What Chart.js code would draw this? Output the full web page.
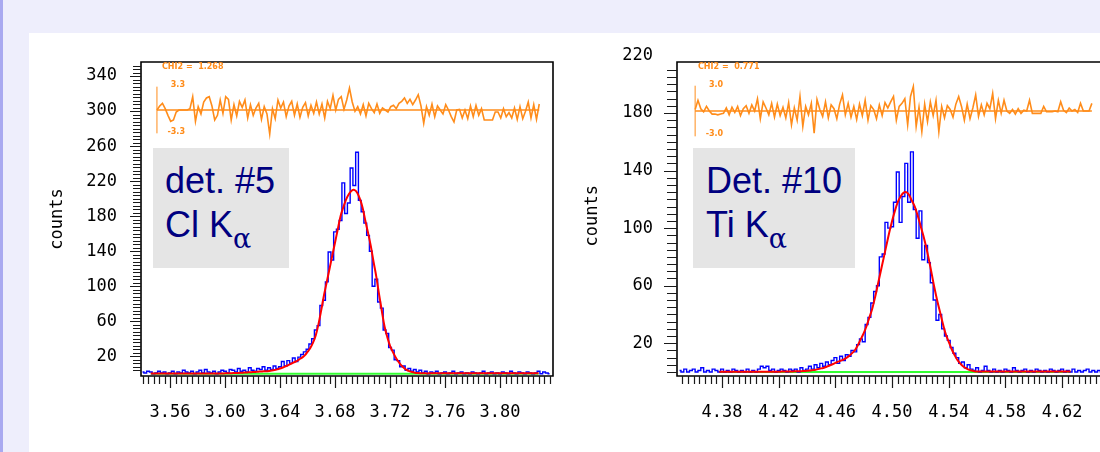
<!DOCTYPE html>
<html>
<head>
<meta charset="utf-8">
<script src="https://cdn.jsdelivr.net/npm/chart.js@4"></script>
<style>
  html, body { margin: 0; padding: 0; overflow: hidden; }
  body { width: 1100px; height: 452px; background: #eeeefc; position: relative; font-family: "Liberation Sans", Arial, sans-serif; }
  #edge { position: absolute; left: 0; top: 0; width: 3px; height: 452px; background: #a9a9f0; }
  #panel { position: absolute; left: 29px; top: 33px; width: 1100px; height: 430px; background: #fff; }
  canvas { position: absolute; top: 36px; }
  #c1 { left: 30px; }
  #c2 { left: 570px; }
  .tag { position: absolute; top: 148px; height: 120px; background: #e5e5e5; color: #000080; font-size: 36px; line-height: 44px; }
  .tag .txt { position: absolute; top: 11px; left: 12px; white-space: nowrap; }
  .tag sub { font-family: "DejaVu Serif", serif; font-size: 27px; vertical-align: -11px; line-height: 0; }
</style>
</head>
<body>
<div id="edge"></div>
<div id="panel"></div>
<canvas id="c1" width="540" height="416"></canvas>
<canvas id="c2" width="550" height="416"></canvas>
<div class="tag" style="left:153px;width:136px"><div class="txt">det. #5<br>Cl K<sub>α</sub></div></div>
<div class="tag" style="left:693px;width:162px"><div class="txt" style="left:13px">Det. #10<br>Ti K<sub>α</sub></div></div>
<script>
// bin width of the spectra (keV)
const BIN = 0.002;

/* ---------- det. #5, Cl K-alpha ---------- */
const clBinStart = 3.540;
const clCounts = [
  2, 1, 3, 2, 0, 1, 3, 1, 2, 0,
  1, 3, 0, 2, 1, 4, 2, 1, 3, 0,
  2, 4, 1, 5, 2, 1, 3, 0, 2, 4,
  3, 1, 5, 4, 2, 6, 3, 4, 2, 7,
  4, 3, 6, 5, 8, 4, 7, 5, 9, 6,
  8, 14, 9, 15, 12, 18, 14, 19, 22, 25,
  28, 34, 40, 50, 55, 78, 84, 105, 139, 130,
  162, 165, 175, 218, 183, 195, 235, 215, 253, 198,
  185, 172, 158, 140, 100, 108, 82, 75, 50, 46,
  30, 27, 16, 15, 8, 9, 4, 6, 3, 5,
  2, 4, 1, 3, 0, 2, 1, 3, 0, 1,
  2, 0, 1, 3, 0, 1, 2, 0, 1, 0,
  2, 1, 0, 1, 3, 0, 1, 2, 0, 1,
  0, 2, 1, 0, 3, 1, 0, 2, 1, 0,
  2, 1, 0, 1, 3, 0, 2, 1, 0
];
const clFitStart = 3.546;
const clFit = [
  0.3, 0.3, 0.3, 0.3, 0.3, 0.3, 0.3, 0.3, 0.3, 0.3,
  0.3, 0.3, 0.3, 0.3, 0.3, 0.3, 0.3, 0.3, 0.3, 0.3,
  0.3, 0.3, 0.3, 0.3, 0.3, 0.4, 0.4, 0.5, 0.6, 0.7,
  0.8, 0.9, 1.0, 1.2, 1.4, 1.6, 1.8, 2.0, 2.2, 2.4,
  2.6, 2.8, 3.0, 3.3, 3.7, 4.3, 5.1, 6.0, 7.2, 8.5,
  10, 11.5, 13, 14.5, 16.5, 18.5, 21, 25, 29.5, 35.5,
  44, 57, 73, 90, 105, 120, 135, 150, 165, 180,
  190, 199, 205, 209, 210, 207, 200, 190, 175, 161,
  146, 128, 111, 91, 72, 54, 42, 32, 25, 19,
  14, 10, 7, 4.5, 3, 2, 1.3, 0.9, 0.7, 0.6,
  0.5, 0.5, 0.5, 0.5, 0.5, 0.5, 0.5, 0.5, 0.5, 0.5,
  0.5, 0.5, 0.5, 0.5, 0.5, 0.5, 0.5, 0.5, 0.5, 0.5,
  0.5, 0.5, 0.5, 0.5, 0.5, 0.5, 0.5, 0.5, 0.5, 0.5,
  0.5, 0.5, 0.5, 0.5, 0.5, 0.5, 0.5, 0.5, 0.5, 0.5,
  0.5, 0.5
];
const clResStart = 3.5505;
const clResid = [
  0, 0.6, 1.0, 0.2, -0.8, -1.7, -1.5, -0.3, 0, 0,
  0, 0, 0.2, 2.0, -1.7, 0.5, -0.6, 1.2, 1.8, 2.0, 0.6, -1.5,
  -0.8, 1.5, -0.5, 2.0, 1.6, -1.5, 0.8, -0.9, 1.3, 0.4, 1.5, -1.2,
  0.8, -0.8, 0.3, 1.0, -1.4, 0.5, -0.6, -3.6, 0.2, -1.3, 1.5, 0.3,
  1.2, -1.0, 0.6, 1.3, -0.8, 0.9, -1.1, 0.4, 1.1, -0.9, 0.7, -0.5,
  1.2, -0.6, 0.9, -1.2, 1.3, 0.2, 2.2, 0.0, 1.6, 2.0, 0.1, 1.5,
  3.3, 1.2, -0.2, 0.5, -0.6, 0.8, -0.9, 1.0, 0.2, -0.4, 0.9, -0.5,
  0.3, 0.0, -0.3, 0.5, 0.7, 0.2, 1.0, 1.3, 1.8, 1.0, 1.6, 0.8,
  1.5, 2.3, 0.6, -2.0, 0.5, -0.8, 0.9, -1.0, 0.6, 0.0, -0.6, 0.8,
  0.0, -1.0, -1.8, 0.0, 0.1, -1.2, 0.0, -1.3, 0.6, -1.0, 0.7, -0.8,
  0.2, -1.5, -1.5, -1.5, -1.5, -0.3, -0.3, -1.2, 0.2, -1.0, -0.4, -1.2,
  0.3, -1.4, 0.5, -1.3, -0.2, 1.2, -1.2, 0.8, -1.4, 0.9
];
const clXLabels = [3.56, 3.60, 3.64, 3.68, 3.72, 3.76, 3.80];
const clYLabels = [20, 60, 100, 140, 180, 220, 260, 300, 340];

/* ---------- det. #10, Ti K-alpha ---------- */
const tiBinStart = 4.350;
const tiCounts = [
  1, 0, 2, 0, 1, 2, 0, 1, 3, 0,
  1, 0, 2, 1, 0, 2, 0, 1, 0, 2,
  1, 0, 1, 0, 2, 0, 1, 0, 2, 4,
  3, 4, 1, 2, 0, 1, 2, 1, 0, 2,
  1, 2, 0, 3, 1, 2, 4, 2, 5, 3,
  6, 4, 7, 5, 8, 10, 6, 11, 8, 12,
  11, 15, 14, 19, 23, 21, 33, 38, 48, 56,
  60, 80, 82, 104, 100, 101, 118, 139, 104, 122,
  145, 118, 153, 113, 93, 112, 78, 88, 76, 62,
  50, 36, 40, 30, 25, 22, 17, 13, 10, 6,
  7, 3, 5, 2, 1, 3, 0, 1, 4, 1,
  0, 2, 0, 1, 0, 2, 1, 0, 3, 1,
  0, 1, 2, 0, 1, 0, 2, 1, 0, 1,
  0, 2, 1, 0, 1, 2, 0, 1, 0, 2,
  0, 1, 0, 1, 2, 0, 1, 0, 1, 0,
  1
];
const tiFitStart = 4.378;
const tiFit = [
  0.2, 0.2, 0.2, 0.2, 0.2, 0.2, 0.2, 0.2, 0.2, 0.2,
  0.2, 0.2, 0.2, 0.2, 0.2, 0.2, 0.2, 0.2, 0.2, 0.2,
  0.2, 0.2, 0.3, 0.3, 0.3, 0.4, 0.4, 0.5, 0.5, 0.6,
  0.7, 0.8, 1.0, 1.3, 1.6, 2.0, 2.5, 3.0, 3.7, 4.5,
  5.4, 6.3, 7.2, 8.0, 8.8, 10, 11.5, 13.3, 15.5, 19,
  23, 27, 32, 38, 44, 52, 61, 70, 79, 88,
  97, 105, 112, 118, 122, 124.5, 125, 123, 119, 115,
  109, 102, 95, 87, 78, 68, 58, 49, 41, 33,
  26, 21, 16, 12, 8.5, 6, 4, 2.7, 1.7, 1.0,
  0.6, 0.4, 0.3, 0.3, 0.3, 0.3, 0.3, 0.3, 0.3, 0.3,
  0.3, 0.3, 0.3, 0.3, 0.3, 0.3, 0.3, 0.3, 0.3, 0.3,
  0.3, 0.3, 0.3, 0.3, 0.3, 0.3, 0.3, 0.3, 0.3, 0.3,
  0.3, 0.3, 0.3, 0.3, 0.3
];
const tiResStart = 4.361;
const tiResid = [
  0.2, 1.4, 0.3, -0.1, 0.6, 0.0, -0.4, -0.4, -0.5, -0.4,
  -0.3, 0.4, -0.5, 0.5, -0.2, 0.6, -0.6, 0.3, 0.7, -0.3, 0.8, 0.0,
  1.6, -1.0, 1.2, 0.4, -0.5, 1.0, -0.8, 0.9, -0.6, 0.5, -0.9, 1.1,
  -1.8, 0.4, -1.2, 1.9, -2.0, 0.6, -0.5, 1.0, -2.9, 1.5, 0.2, -0.7,
  1.2, -0.9, 0.8, 0.3, -1.0, 0.9, 2.1, -0.5, 1.0, -0.8, 0.6, -1.1,
  0.9, -0.6, 1.4, -1.2, 0.7, 0.2, -1.0, 0.8, -0.6, 1.1, 0.4, 1.2,
  1.9, -1.2, 0.6, 1.0, 1.6, -1.8, 1.9, 3.2, -2.0, 0.5, -2.7, 0.9,
  -1.4, 1.2, -0.6, 1.4, -2.7, 0.6, -0.9, 0.7, 0.2, -0.8, 0.9, 1.9,
  0.6, -1.2, 0.9, -1.0, 0.4, 2.1, -0.7, 0.8, -0.5, 1.0, 0.3, 2.3,
  -1.0, 1.4, -0.3, 1.4, 0.0, -0.3, 0.2, -0.4, 0.3, -0.3, 0.1, 0.0,
  1.4, -0.3, -0.3, -0.3, -0.3, 0.6, -0.1, -0.1, -0.1, 0.0, -0.1, 1.2,
  0.1, -0.2, 0.4, 0.0, 0.2, -0.2, 1.0, 0.0, 0.0, 0.0, 1.0
];
const tiXLabels = [4.38, 4.42, 4.46, 4.50, 4.54, 4.58, 4.62];
const tiYLabels = [20, 60, 100, 140, 180, 220];

const MONO = '"DejaVu Sans Mono", monospace';
const RES_COLOR = '#ff8c1a';

// frame, tick marks and the small residual-panel texts
const frameTicks = {
  id: 'frameTicks',
  afterDraw(chart, args, o) {
    const { ctx, chartArea: a, scales: { x, y, res } } = chart;
    const top = y.getPixelForValue(o.frameTop);
    ctx.save();
    ctx.strokeStyle = '#000';
    ctx.lineWidth = 1.6;
    ctx.beginPath();
    ctx.moveTo(a.left, a.bottom);
    ctx.lineTo(a.left, top);
    ctx.lineTo(a.right, top);
    ctx.lineTo(a.right, a.bottom);
    ctx.closePath();
    ctx.stroke();

    ctx.lineWidth = 1.2;
    ctx.strokeStyle = '#1a1a1a';
    ctx.beginPath();
    x.ticks.forEach((t, i) => {
      const px = Math.round(x.getPixelForTick(i)) + 0.5;
      if (px < a.left + 2 || px > a.right - 2) return;
      ctx.moveTo(px, a.bottom);
      ctx.lineTo(px, a.bottom + (t.label ? o.xLong : o.xShort));
    });
    y.ticks.forEach((t, i) => {
      const py = Math.round(y.getPixelForTick(i)) + 0.5;
      if (py < top + 3 || py > a.bottom - 2) return;
      ctx.moveTo(a.left, py);
      ctx.lineTo(a.left - (t.label ? o.yLong : o.yShort), py);
    });
    ctx.stroke();

    ctx.fillStyle = RES_COLOR;
    ctx.font = 'bold 8px "DejaVu Sans"';
    ctx.textBaseline = 'middle';
    ctx.textAlign = 'left';
    ctx.fillText('CHI2 =  ' + o.chi2, a.left + 21, top + 5);
    const vx = x.getPixelForValue(o.resStart) + 28;
    ctx.textAlign = 'right';
    ctx.fillText(o.lim.toFixed(1), vx, res.getPixelForValue(o.lim) - 3);
    ctx.fillText((-o.lim).toFixed(1), vx, res.getPixelForValue(-o.lim));
    ctx.restore();
  }
};

// keep the plot box exactly where the axis sizes put it
const noPad = s => { s.paddingTop = 0; s.paddingBottom = 0; s.paddingLeft = 0; s.paddingRight = 0; };

function buildChart(id, d) {
  const pts = (start, vals) => vals.map((v, i) => ({ x: start + i * BIN, y: v }));
  const near = (list, v) => list.some(l => Math.abs(l - v) < 1e-6);
  const fitEnd = d.fitStart + (d.fit.length - 1) * BIN;
  const resEnd = d.resStart + (d.resid.length - 1) * BIN;

  return new Chart(document.getElementById(id), {
    type: 'line',
    data: {
      datasets: [
        { label: 'fit', data: pts(d.fitStart, d.fit), borderColor: '#ff0000', borderWidth: 2, tension: 0.35, order: 1 },
        { label: 'counts', data: pts(d.binStart, d.counts), borderColor: '#0000ff', borderWidth: 1.4, stepped: 'middle', order: 2 },
        { label: 'background', data: [{ x: d.fitStart, y: 0 }, { x: fitEnd, y: 0 }], borderColor: '#33ff33', borderWidth: 2, order: 3 },
        { label: 'residuals', data: pts(d.resStart, d.resid), yAxisID: 'res', borderColor: RES_COLOR, borderWidth: 1.6, order: 4 },
        { label: 'zero', data: [{ x: d.resStart, y: 0 }, { x: resEnd, y: 0 }], yAxisID: 'res', borderColor: RES_COLOR, borderWidth: 1.5, order: 5 },
        { label: 'scale bar', data: [{ x: d.resStart, y: -d.resBar }, { x: d.resStart, y: d.resBar }], yAxisID: 'res', borderColor: RES_COLOR, borderWidth: 1, order: 6 }
      ]
    },
    options: {
      responsive: false,
      animation: false,
      layout: { padding: d.pad },
      elements: { point: { radius: 0 }, line: { fill: false } },
      plugins: {
        legend: { display: false },
        tooltip: { enabled: false },
        frameTicks: d.marks
      },
      scales: {
        x: {
          type: 'linear', min: d.xRange[0], max: d.xRange[1],
          grid: { display: false, drawTicks: false },
          border: { display: false },
          ticks: {
            stepSize: 0.004, autoSkip: false, includeBounds: false, maxRotation: 0,
            padding: 26, color: '#000', font: { family: MONO, size: 17 },
            callback: v => near(d.xLabels, v) ? v.toFixed(2) : ''
          },
          afterFit: s => { s.height = 76; noPad(s); }
        },
        y: {
          type: 'linear', min: d.yRange[0], max: d.yRange[1],
          grid: { display: false, drawTicks: false },
          border: { display: false },
          ticks: {
            stepSize: d.yStep, autoSkip: false, includeBounds: false,
            padding: 24, color: '#000', font: { family: MONO, size: 17 },
            callback: v => near(d.yLabels, v) ? String(Math.round(v)) : ''
          },
          title: {
            display: true, text: 'counts', color: '#000',
            font: { family: MONO, size: 17 }, padding: { top: d.titlePad, bottom: 0 }
          },
          afterFit: s => { s.width = d.yWidth; noPad(s); }
        },
        res: { type: 'linear', axis: 'y', position: 'right', display: false, min: d.resRange[0], max: d.resRange[1] }
      }
    },
    plugins: [frameTicks]
  });
}

buildChart('c1', {
  binStart: clBinStart, counts: clCounts,
  fitStart: clFitStart, fit: clFit,
  resStart: clResStart, resid: clResid, resBar: 3.5,
  xLabels: clXLabels, yLabels: clYLabels,
  xRange: [3.5389, 3.8385], yRange: [-2.5, 356], yStep: 4,
  resRange: [-39.9, 7.2],
  pad: { top: 26, right: 17, left: 0, bottom: 0 },
  yWidth: 111, titlePad: 17,
  marks: { frameTop: 356, xLong: 12, xShort: 8, yLong: 11, yShort: 8, chi2: '1.268', lim: 3.3, resStart: clResStart }
});

buildChart('c2', {
  binStart: tiBinStart, counts: tiCounts,
  fitStart: tiFitStart, fit: tiFit,
  resStart: tiResStart, resid: tiResid, resBar: 3.3,
  xLabels: tiXLabels, yLabels: tiYLabels,
  xRange: [4.3482, 4.6538], yRange: [-2.78, 220], yStep: 5,
  resRange: [-34.55, 7.24],
  pad: { top: 19.5, right: 10, left: 0, bottom: 0 },
  yWidth: 107, titlePad: 12,
  marks: { frameTop: 215.5, xLong: 12, xShort: 8, yLong: 13, yShort: 10, chi2: '0.771', lim: 3.0, resStart: tiResStart }
});
</script>
</body>
</html>
